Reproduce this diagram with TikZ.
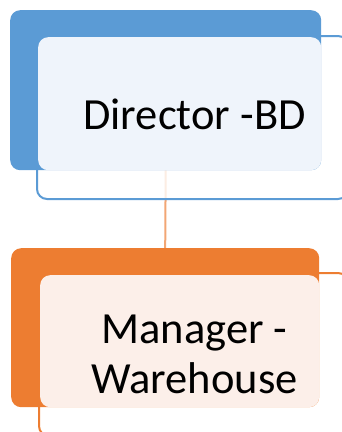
\documentclass[tikz,border=0pt]{standalone}
\usepackage{fontspec}
\setmainfont{Carlito}
\usepackage{xcolor}
\usetikzlibrary{positioning, backgrounds}
\definecolor{bdblue}{HTML}{5B9BD5}
\definecolor{bdface}{HTML}{EFF4FB}
\definecolor{whorange}{HTML}{ED7D31}
\definecolor{whface}{HTML}{FCEFE9}
\definecolor{linkorange}{HTML}{F2A674}

\begin{document}
\begin{tikzpicture}[x=1pt, y=-1pt,
    back/.style={rounded corners=10pt, anchor=north west, inner sep=0pt},
    face/.style={rounded corners=10pt, anchor=south east, inner sep=0pt},
    frame/.style={draw, line width=2pt, rounded corners=10pt, fill=white, fill opacity=0.8, anchor=north west, inner sep=0pt, minimum width=311pt, minimum height=163pt},
    label/.style={font=\fontsize{44.5}{50}\selectfont, align=center, inner sep=0pt},
    link/.style={line width=2pt, draw=linkorange}
]
    \useasboundingbox (0,0) rectangle (341,432);
    % director box
    \node[frame, draw=bdblue] at (36,35) (dirframe) {};
    \node[back, fill=bdblue, minimum width=311pt, minimum height=160pt] at (10,10) (dirback) {};
    \node[face, fill=bdface, minimum width=283pt, minimum height=133pt] at (dirback.south east) (dirface) {};
    \node[label] at ([xshift=2pt, yshift=3pt]dirframe.center) (dirtext) {Director -BD};
    % manager box
    \node[frame, draw=whorange, minimum width=309pt] at (38,272) (mgrframe) {};
    \node[back, fill=whorange, minimum width=308pt, minimum height=159pt] at (11,248) (mgrback) {};
    \node[face, fill=whface, minimum width=279pt, minimum height=132pt] at (mgrback.south east) (mgrface) {};
    \node[label] at ([xshift=1pt]mgrframe.center) (mgrtext) {Manager -\\Warehouse};
    % connector
    \begin{scope}[on background layer]
        \draw[link] (dirback.south) -- (mgrback.north);
    \end{scope}
\end{tikzpicture}
\end{document}
